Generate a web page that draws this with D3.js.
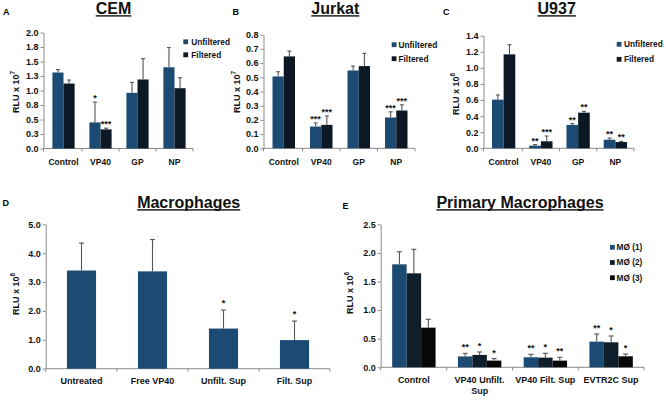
<!DOCTYPE html>
<html><head><meta charset="utf-8">
<script src="https://cdn.jsdelivr.net/npm/d3@7"></script>
<style>body{margin:0;background:#fff} svg{display:block}</style>
</head><body>
<svg id="c" width="666" height="402"></svg>
<script>
// ================= DATA =================
const cellCategories = ["Control", "VP40", "GP", "NP"];
const cellSeries = ["Unfiltered", "Filtered"];

// A - CEM (RLU x 10^7)
const cemUnfiltered    = [1.31, 0.45, 0.96, 1.40];
const cemUnfilteredErr = [0.05, 0.35, 0.18, 0.34];
const cemUnfilteredSig = ["", "*", "", ""];
const cemFiltered      = [1.12, 0.33, 1.19, 1.04];
const cemFilteredErr   = [0.06, 0.02, 0.36, 0.18];
const cemFilteredSig   = ["", "***", "", ""];
const cemTicks      = [0, 0.25, 0.5, 0.75, 1.0, 1.25, 1.5, 1.75, 2.0];
const cemTickLabels = ["0.0", "0.3", "0.5", "0.8", "1.0", "1.3", "1.5", "1.8", "2.0"];

// B - Jurkat (RLU x 10^7)
const jurUnfiltered    = [0.506, 0.153, 0.548, 0.217];
const jurUnfilteredErr = [0.033, 0.026, 0.031, 0.040];
const jurUnfilteredSig = ["", "***", "", "***"];
const jurFiltered      = [0.647, 0.165, 0.579, 0.266];
const jurFilteredErr   = [0.038, 0.063, 0.089, 0.040];
const jurFilteredSig   = ["", "***", "", "***"];
const jurTicks      = [0, 0.1, 0.2, 0.3, 0.4, 0.5, 0.6, 0.7, 0.8];
const jurTickLabels = ["0.0", "0.1", "0.2", "0.3", "0.4", "0.5", "0.6", "0.7", "0.8"];

// C - U937 (RLU x 10^6)
const u937Unfiltered    = [0.605, 0.033, 0.290, 0.107];
const u937UnfilteredErr = [0.058, 0.013, 0.017, 0.021];
const u937UnfilteredSig = ["", "**", "**", "**"];
const u937Filtered      = [1.168, 0.087, 0.443, 0.078];
const u937FilteredErr   = [0.120, 0.066, 0.017, 0.008];
const u937FilteredSig   = ["", "***", "**", "**"];
const u937Ticks      = [0, 0.2, 0.4, 0.6, 0.8, 1.0, 1.2, 1.4];
const u937TickLabels = ["0.0", "0.2", "0.4", "0.6", "0.8", "1.0", "1.2", "1.4"];

// D - Macrophages (RLU x 10^6)
const macCategories = ["Untreated", "Free VP40", "Unfilt. Sup", "Filt. Sup"];
const macValues     = [3.40, 3.37, 1.39, 0.99];
const macErr        = [0.95, 1.10, 0.64, 0.66];
const macSig        = ["", "", "*", "*"];
const macTicks      = [0, 1, 2, 3, 4, 5];
const macTickLabels = ["0.0", "1.0", "2.0", "3.0", "4.0", "5.0"];

// E - Primary Macrophages (RLU x 10^6)
const pmCategories = ["Control", "VP40 Unfilt. Sup", "VP40 Filt. Sup", "EVTR2C Sup"];
const pmLabelLines = [["Control"], ["VP40 Unfilt.", "Sup"], ["VP40 Filt. Sup"], ["EVTR2C Sup"]];
const pmSeries  = ["MØ (1)", "MØ (2)", "MØ (3)"];
const pmM1      = [1.800, 0.190, 0.175, 0.449];
const pmM1Err   = [0.220, 0.053, 0.052, 0.134];
const pmM1Sig   = ["", "**", "**", "**"];
const pmM2      = [1.643, 0.216, 0.169, 0.437];
const pmM2Err   = [0.420, 0.052, 0.076, 0.111];
const pmM2Sig   = ["", "*", "*", "*"];
const pmM3      = [0.693, 0.117, 0.117, 0.192];
const pmM3Err   = [0.146, 0.035, 0.058, 0.041];
const pmM3Sig   = ["", "*", "**", "*"];
const pmTicks      = [0, 0.5, 1.0, 1.5, 2.0, 2.5];
const pmTickLabels = ["0.0", "0.5", "1.0", "1.5", "2.0", "2.5"];

// ================= STYLE =================
const BLUE = "#1b4a73", DARK = "#0c1824", M2C = "#0f1e2b", M3C = "#070707";
const FONT = "'Liberation Sans', Arial, sans-serif";
const AXIS = "#8a8a8a", ERR = "#555";

const svg = d3.select("#c");
svg.append("rect").attr("width", 666).attr("height", 402).attr("fill", "#fff");

function panel(cfg) {
  const g = svg.append("g");
  const n = cfg.categories.length;
  const y = d3.scaleLinear().domain([0, cfg.ymax]).range([cfg.yBottom, cfg.yTop]);
  const x = d3.scaleBand().domain(cfg.categories).range(cfg.xRange)
    .paddingInner(cfg.pad).paddingOuter(cfg.pad / 2);
  const xs = d3.scaleBand().domain(cfg.series.map(s => s.name)).range([0, x.bandwidth()]);

  g.append("text").attr("x", cfg.letterPos[0]).attr("y", cfg.letterPos[1])
    .attr("font-family", FONT).attr("font-weight", "bold").attr("font-size", 9)
    .text(cfg.letter);

  const t = g.append("text").attr("x", cfg.titlePos[0]).attr("y", cfg.titlePos[1])
    .attr("text-anchor", "middle").attr("font-family", FONT).attr("font-weight", "bold")
    .attr("font-size", 16).attr("fill", "#111").text(cfg.title);
  const tw = t.node().getComputedTextLength();
  g.append("rect").attr("x", cfg.titlePos[0] - tw / 2).attr("y", cfg.titlePos[1] + 1.2)
    .attr("width", tw).attr("height", 1.4).attr("fill", "#111");

  const ya = g.append("g").attr("transform", `translate(${cfg.axisX},0)`)
    .call(d3.axisLeft(y).tickValues(cfg.ticks).tickFormat((d, i) => cfg.tickLabels[i])
      .tickSize(3).tickPadding(2).tickSizeOuter(0));
  ya.select(".domain").attr("stroke", AXIS);
  ya.selectAll(".tick line").attr("stroke", AXIS);
  ya.selectAll(".tick text").attr("font-family", FONT).attr("font-weight", "bold")
    .attr("font-size", cfg.tickFont).attr("fill", "#111");

  const xa = g.append("g").attr("transform", `translate(0,${cfg.yBottom})`)
    .call(d3.axisBottom(x).tickSize(0).tickFormat(""));
  xa.select(".domain").remove();
  xa.append("line").attr("x1", cfg.axisX).attr("x2", cfg.xRange[1]).attr("y1", 0).attr("y2", 0)
    .attr("stroke", AXIS);
  for (let i = 0; i <= n; i++) {
    const bx = i === 0 ? cfg.axisX : cfg.xRange[0] + i * x.step();
    xa.append("line").attr("x1", bx).attr("x2", bx).attr("y1", 0).attr("y2", 3).attr("stroke", AXIS);
  }
  cfg.categories.forEach((c, i) => {
    const lines = cfg.labelLines ? cfg.labelLines[i] : [c];
    const tx = xa.append("text").attr("text-anchor", "middle").attr("font-family", FONT)
      .attr("font-weight", "bold").attr("font-size", cfg.labelFont).attr("fill", "#111")
      .attr("x", x(c) + x.bandwidth() / 2).attr("y", cfg.labelDy);
    lines.forEach((l, j) => tx.append("tspan").attr("x", x(c) + x.bandwidth() / 2)
      .attr("dy", j === 0 ? 0 : cfg.labelFont * 1.2).text(l));
  });

  const yl = g.append("text").attr("transform", `translate(${cfg.yLabelPos[0]},${cfg.yLabelPos[1]}) rotate(-90)`)
    .attr("text-anchor", "middle").attr("font-family", FONT).attr("font-weight", "bold")
    .attr("font-size", cfg.tickFont).attr("fill", "#111");
  yl.append("tspan").text(cfg.yLabel);
  yl.append("tspan").attr("font-size", cfg.tickFont * 0.7).attr("dy", -3.5).text(cfg.yExp);

  cfg.series.forEach(s => {
    cfg.categories.forEach((c, i) => {
      const v = s.values[i], e = s.err[i];
      const bx = x(c) + xs(s.name), bw = xs.bandwidth(), cx = bx + bw / 2;
      g.append("rect").attr("x", bx).attr("y", y(v)).attr("width", bw)
        .attr("height", y(0) - y(v)).attr("fill", s.color);
      g.append("line").attr("x1", cx).attr("x2", cx).attr("y1", y(v)).attr("y2", y(v + e))
        .attr("stroke", ERR).attr("stroke-width", 1.1);
      g.append("line").attr("x1", cx - cfg.cap / 2).attr("x2", cx + cfg.cap / 2)
        .attr("y1", y(v + e)).attr("y2", y(v + e)).attr("stroke", ERR).attr("stroke-width", 1.1);
      if (s.sig && s.sig[i]) {
        g.append("text").attr("x", cx).attr("y", y(v + e) - cfg.sigGap + cfg.sigFont * 0.55)
          .attr("text-anchor", "middle").attr("font-family", FONT).attr("font-weight", "bold")
          .attr("font-size", cfg.sigFont).attr("fill", "#111").text(s.sig[i]);
      }
    });
  });

  if (cfg.legend) {
    const L = cfg.legend;
    cfg.series.forEach((s, i) => {
      const ly = L.y + i * L.dy;
      g.append("rect").attr("x", L.x).attr("y", ly - 2.4).attr("width", 4.8).attr("height", 4.8)
        .attr("fill", s.color);
      g.append("text").attr("x", L.x + L.tx).attr("y", ly).attr("dy", "0.35em")
        .attr("font-family", FONT).attr("font-weight", "bold").attr("font-size", L.font)
        .attr("fill", "#111").text(s.name);
    });
  }
}

panel({
  letter: "A", letterPos: [3, 15], title: "CEM", titlePos: [113.5, 14],
  axisX: 43.5, yTop: 32.5, yBottom: 148.5, xRange: [45, 193], pad: 0.4, ymax: 2.0,
  ticks: cemTicks, tickLabels: cemTickLabels, tickFont: 9, labelFont: 8.5, labelDy: 16.5,
  categories: cellCategories, yLabel: "RLU x 10", yExp: "7", yLabelPos: [18.5, 92],
  cap: 4, sigGap: 6, sigFont: 9,
  series: [
    { name: cellSeries[0], color: BLUE, values: cemUnfiltered, err: cemUnfilteredErr, sig: cemUnfilteredSig },
    { name: cellSeries[1], color: DARK, values: cemFiltered, err: cemFilteredErr, sig: cemFilteredSig }
  ],
  legend: { x: 183.3, y: 41.8, dy: 13, tx: 8, font: 8.3 }
});

panel({
  letter: "B", letterPos: [232.5, 15], title: "Jurkat", titlePos: [335.3, 14],
  axisX: 263.5, yTop: 34.7, yBottom: 148.3, xRange: [265, 415], pad: 0.4, ymax: 0.8,
  ticks: jurTicks, tickLabels: jurTickLabels, tickFont: 9, labelFont: 8.5, labelDy: 16.5,
  categories: cellCategories, yLabel: "RLU x 10", yExp: "7", yLabelPos: [239.5, 92],
  cap: 4, sigGap: 6, sigFont: 9,
  series: [
    { name: cellSeries[0], color: BLUE, values: jurUnfiltered, err: jurUnfilteredErr, sig: jurUnfilteredSig },
    { name: cellSeries[1], color: DARK, values: jurFiltered, err: jurFilteredErr, sig: jurFilteredSig }
  ],
  legend: { x: 391.7, y: 44.7, dy: 14, tx: 6.8, font: 8.3 }
});

panel({
  letter: "C", letterPos: [443, 15], title: "U937", titlePos: [556.7, 14],
  axisX: 483.5, yTop: 35.7, yBottom: 148.3, xRange: [485, 634], pad: 0.375, ymax: 1.4,
  ticks: u937Ticks, tickLabels: u937TickLabels, tickFont: 9, labelFont: 8.5, labelDy: 16.5,
  categories: cellCategories, yLabel: "RLU x 10", yExp: "6", yLabelPos: [458.5, 94],
  cap: 4, sigGap: 6, sigFont: 9,
  series: [
    { name: cellSeries[0], color: BLUE, values: u937Unfiltered, err: u937UnfilteredErr, sig: u937UnfilteredSig },
    { name: cellSeries[1], color: DARK, values: u937Filtered, err: u937FilteredErr, sig: u937FilteredSig }
  ],
  legend: { x: 616.7, y: 44.3, dy: 15, tx: 7.3, font: 8.3 }
});

panel({
  letter: "D", letterPos: [2.5, 205.5], title: "Macrophages", titlePos: [188.7, 208],
  axisX: 45.7, yTop: 224.3, yBottom: 368.7, xRange: [46, 330], pad: 0.59, ymax: 5,
  ticks: macTicks, tickLabels: macTickLabels, tickFont: 9, labelFont: 9, labelDy: 15,
  categories: macCategories, yLabel: "RLU x 10", yExp: "6", yLabelPos: [18.5, 294],
  cap: 5, sigGap: 9, sigFont: 9,
  series: [
    { name: "Macrophages", color: BLUE, values: macValues, err: macErr, sig: macSig }
  ]
});

panel({
  letter: "E", letterPos: [342.5, 208.5], title: "Primary Macrophages", titlePos: [520, 208],
  axisX: 380.7, yTop: 224.3, yBottom: 367.3, xRange: [381, 644], pad: 0.34, ymax: 2.5,
  ticks: pmTicks, tickLabels: pmTickLabels, tickFont: 9, labelFont: 9, labelDy: 16,
  categories: pmCategories, labelLines: pmLabelLines, yLabel: "RLU x 10", yExp: "6", yLabelPos: [352.5, 293],
  cap: 5, sigGap: 8, sigFont: 9,
  series: [
    { name: pmSeries[0], color: BLUE, values: pmM1, err: pmM1Err, sig: pmM1Sig },
    { name: pmSeries[1], color: M2C, values: pmM2, err: pmM2Err, sig: pmM2Sig },
    { name: pmSeries[2], color: M3C, values: pmM3, err: pmM3Err, sig: pmM3Sig }
  ],
  legend: { x: 610, y: 247.3, dy: 15.2, tx: 6.5, font: 8.3 }
});
</script>
</body></html>
